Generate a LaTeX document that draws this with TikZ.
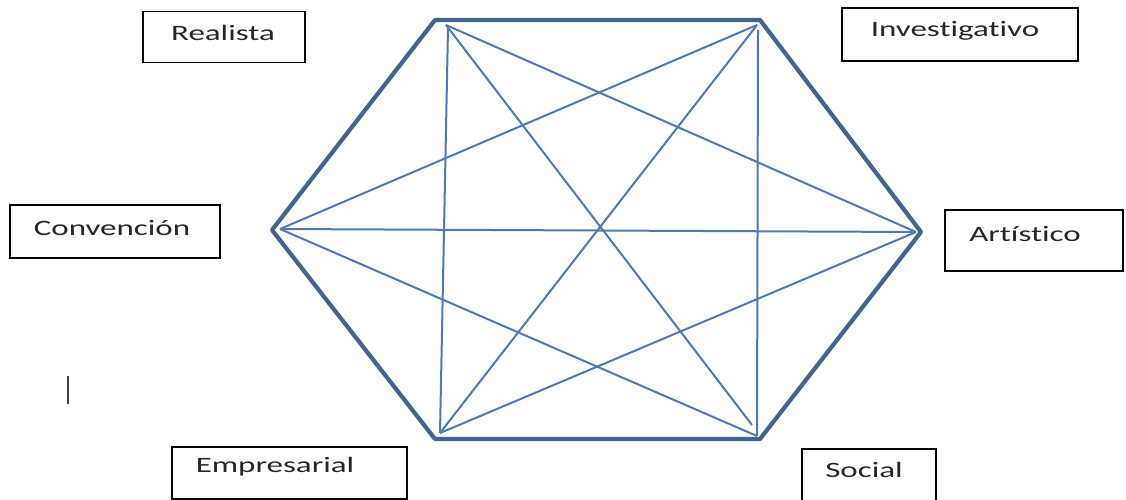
\documentclass[tikz,border=0pt]{standalone}
\usepackage{fontspec}
\setmainfont{Carlito}[Ligatures=NoCommon]
\begin{document}
\begin{tikzpicture}[x=1pt,y=-1pt,
  hexedge/.style={draw=hexblue,line width=4.2pt,line join=round},
  inner/.style={draw=innerblue,line width=2pt},
  labelbox/.style={draw=black,line width=1.8pt,inner sep=0pt},
  labeltext/.style={font=\fontsize{22}{26}\selectfont,inner sep=0pt,text=black!85}]
\definecolor{hexblue}{HTML}{42648F}
\definecolor{innerblue}{HTML}{5079B2}
\newcommand{\wide}[1]{\scalebox{1.5}[1]{#1}}
\useasboundingbox (0,0) rectangle (1126,499);
% hexagon vertices
\coordinate (TL) at (435,20);
\coordinate (TR) at (760,20);
\coordinate (R) at (921,232);
\coordinate (BR) at (760,439);
\coordinate (BL) at (435,439);
\coordinate (L) at (272,230);
% inner line ends
\coordinate (tl) at (446,25);
\coordinate (tlv) at (448,28);
\coordinate (tr) at (757,25);
\coordinate (trv) at (758,30);
\coordinate (r) at (916,232);
\coordinate (br) at (757,436);
\coordinate (brs) at (752,425);
\coordinate (bl) at (440,433);
\coordinate (l) at (280,229);
% inner lines
\draw[inner] (tlv) -- (bl);
\draw[inner] (trv) -- (br);
\draw[inner] (tl) -- (brs);
\draw[inner] (tl) -- (r);
\draw[inner] (tr) -- (bl);
\draw[inner] (tr) -- (l);
\draw[inner] (l) -- (r);
\draw[inner] (l) -- (br);
\draw[inner] (r) -- (bl);
% hexagon
\draw[hexedge] (TL) -- (TR) -- (R) -- (BR) -- (BL) -- (L) -- cycle;
% boxes
\node[labelbox,minimum width=162pt,minimum height=51pt] (realbox) at (224,37) {};
\node[labeltext] (real) at (223,33) {\wide{Realista}};
\node[labelbox,minimum width=236pt,minimum height=53pt] (invbox) at (960,34.5) {};
\node[labeltext] (inv) at (955,31) {\wide{Investigativo}};
\node[labelbox,minimum width=210pt,minimum height=53pt] (convbox) at (115,231.5) {};
\node[labeltext] (conv) at (112,228) {\wide{Convención}};
\node[labelbox,minimum width=178pt,minimum height=61pt] (artbox) at (1034,240.5) {};
\node[labeltext] (art) at (1025,234) {\wide{Artístico}};
\node[labelbox,minimum width=235pt,minimum height=52pt] (empbox) at (289.5,473) {};
\node[labeltext] (emp) at (275,467) {\wide{Empresarial}};
\draw[line width=1.8pt] (802,520) -- (802,449) -- (936,449) -- (936,520);
\node[labeltext] (soc) at (864,470) {\wide{Social}};
% stray bar
\coordinate (bar1) at (68,376);
\coordinate (bar2) at (68,404);
\draw[line width=1.3pt,black!75] (bar1) -- (bar2);
\end{tikzpicture}
\end{document}
